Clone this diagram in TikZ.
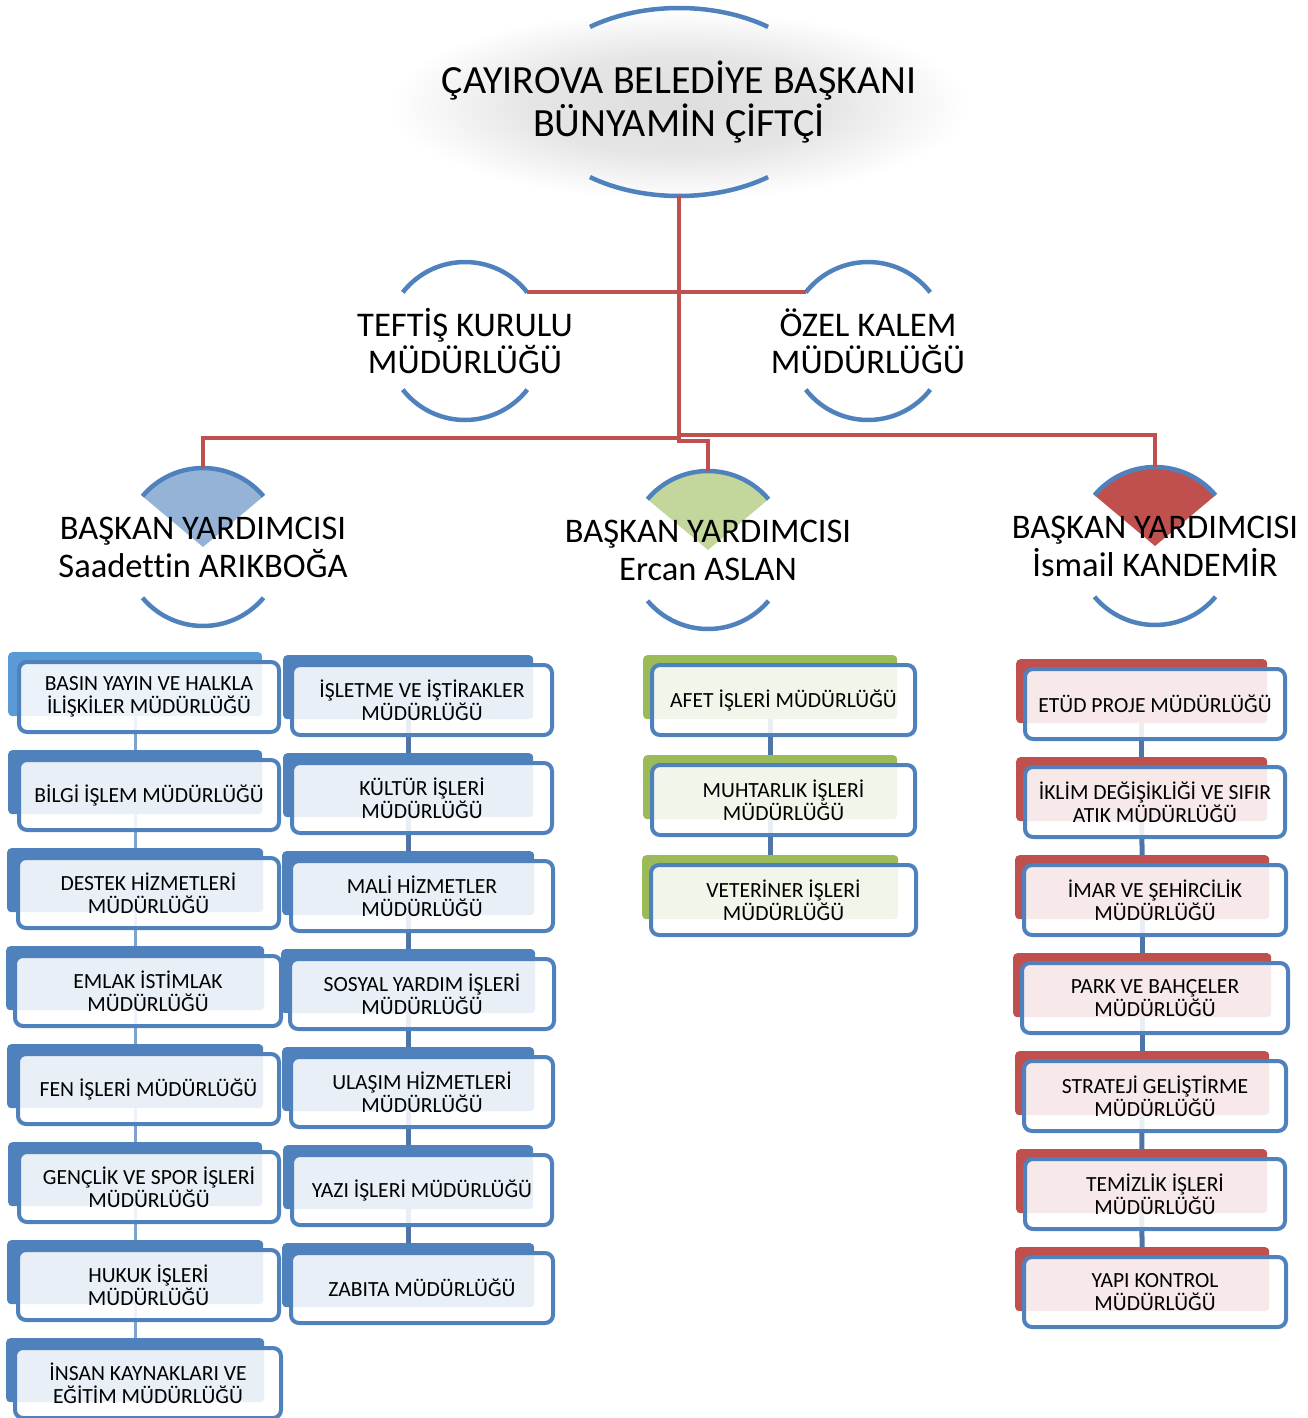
\documentclass[tikz,border=0pt]{standalone}
\usepackage{fontspec}
\setmainfont{Carlito}[Ligatures={NoCommon}]
\usetikzlibrary{calc,backgrounds}
\definecolor{accblue}{HTML}{4F81BD}
\definecolor{accblueL}{HTML}{5B9BD5}
\definecolor{accred}{HTML}{C0504D}
\definecolor{accgreen}{HTML}{9BBB59}
\definecolor{wedgeblue}{HTML}{95B3D7}
\definecolor{wedgegreen}{HTML}{C3D69B}
\definecolor{linkblue}{HTML}{4E74A8}
\definecolor{linkpale}{HTML}{7FA3CF}
\colorlet{glowA}{black!13}
\colorlet{glowB}{black!10}
\pgfdeclareradialshading{glow}{\pgfpoint{0bp}{0bp}}{color(0bp)=(glowA); color(13bp)=(glowB); color(25bp)=(white); color(50bp)=(white)}

% name, back colour, back x, back width, front x, front width, top y, text
\newcommand\obox[8]{%
  \node[backbox, fill=#2, minimum width=#4pt] (#1b) at (#3,#7) {};
  \node[frontbox, minimum width=#6pt] (#1) at (#5,#7+8) {#8};
}

\begin{document}
\begin{tikzpicture}[x=1pt,y=-1pt,
  arcline/.style={draw=accblue, line width=4.5pt},
  redline/.style={draw=accred, line width=4pt},
  backbox/.style={rectangle, rounded corners=4pt, inner sep=0pt, minimum height=64pt, anchor=north west},
  frontbox/.style={rectangle, rounded corners=8pt, draw=accblue, line width=4pt, fill=white, fill opacity=0.88, text opacity=1, inner sep=0pt, minimum height=70pt, anchor=north west, align=center, font=\fontsize{21.6}{23}\selectfont},
  paleLink/.style={draw=linkpale, line width=3pt},
  darkLink/.style={draw=linkblue, line width=5pt},
  bigtxt/.style={align=center, inner sep=0pt, font=\fontsize{40}{43}\selectfont},
  midtxt/.style={align=center, inner sep=0pt, font=\fontsize{34.6}{37}\selectfont},
  vptxt/.style={align=center, inner sep=0pt, font=\fontsize{34.5}{38}\selectfont}
]
\useasboundingbox (0,0) rectangle (1307,1418);

% ---------- top node ----------
\shade[shading=glow] (679,105) ellipse [x radius=290pt, y radius=95pt];
\coordinate (topc) at (679,102);
\draw[arcline] ($(topc)+(53:148pt and 94pt)$) arc[start angle=53, end angle=127, x radius=148pt, y radius=94pt];
\draw[arcline] ($(topc)+(233:148pt and 94pt)$) arc[start angle=233, end angle=307, x radius=148pt, y radius=94pt];
\node[bigtxt] (top) at (topc) {ÇAYIROVA BELEDİYE BAŞKANI\\BÜNYAMİN ÇİFTÇİ};
\coordinate (topbot) at ($(topc)+(0,94)$);

% ---------- staff nodes ----------
\coordinate (teftisc) at (465,341);
\coordinate (ozelc) at (868,341);
\foreach \c in {teftisc,ozelc}{
  \draw[arcline] ($(\c)+(38:79pt)$) arc[start angle=38, end angle=142, radius=79pt];
  \draw[arcline] ($(\c)+(218:79pt)$) arc[start angle=218, end angle=322, radius=79pt];
}
\node[midtxt] (teftis) at (teftisc) {TEFTİŞ KURULU\\MÜDÜRLÜĞÜ};
\node[midtxt] (ozel) at (ozelc) {ÖZEL KALEM\\MÜDÜRLÜĞÜ};
\coordinate (teftisR) at ($(teftisc)+(38:79pt)$);
\coordinate (ozelL) at ($(ozelc)+(142:79pt)$);

% ---------- deputy nodes ----------
\coordinate (vp1c) at (203,547);
\coordinate (vp2c) at (708,550);
\coordinate (vp3c) at (1155,546);
\fill[wedgeblue] (vp1c) -- ($(vp1c)+(40:79pt)$) arc[start angle=40, end angle=140, radius=79pt] -- cycle;
\fill[wedgegreen] (vp2c) -- ($(vp2c)+(40:79pt)$) arc[start angle=40, end angle=140, radius=79pt] -- cycle;
\fill[accred] (vp3c) -- ($(vp3c)+(40:79pt)$) arc[start angle=40, end angle=140, radius=79pt] -- cycle;
\foreach \c in {vp1c,vp2c,vp3c}{
  \draw[arcline] ($(\c)+(40:79pt)$) arc[start angle=40, end angle=140, radius=79pt];
  \draw[arcline] ($(\c)+(220:79pt)$) arc[start angle=220, end angle=320, radius=79pt];
}
\node[vptxt] (vp1) at (vp1c) {BAŞKAN YARDIMCISI\\Saadettin ARIKBOĞA};
\node[vptxt] (vp2) at (vp2c) {BAŞKAN YARDIMCISI\\Ercan ASLAN};
\node[vptxt] (vp3) at (vp3c) {BAŞKAN YARDIMCISI\\İsmail KANDEMİR};
\coordinate (vp1top) at ($(vp1c)+(0,-79)$);
\coordinate (vp2top) at ($(vp2c)+(0,-79)$);
\coordinate (vp3top) at ($(vp3c)+(0,-79)$);

% ---------- red connectors ----------
\coordinate (hub) at (679,441);
\coordinate (bar1) at (203,438);
\coordinate (bar2) at (708,441);
\coordinate (bar3) at (1155,435);
\draw[redline] (topbot) -- (hub);
\draw[redline] (topbot) |- (teftisR);
\draw[redline] (topbot) |- (ozelL);
\draw[redline] (topbot) |- (bar1) -- (vp1top);
\draw[redline] (topbot) |- (bar2) -- (vp2top);
\draw[redline] (topbot) |- (bar3) -- (vp3top);

% ---------- column 1 ----------
\obox{a1}{accblueL}{8}{254}{17}{260}{652}{BASIN YAYIN VE HALKLA\\İLİŞKİLER MÜDÜRLÜĞÜ}
\obox{a2}{accblue}{8}{254}{17}{260}{750}{BİLGİ İŞLEM MÜDÜRLÜĞÜ}
\obox{a3}{accblue}{7}{256}{16}{261}{848}{DESTEK HİZMETLERİ\\MÜDÜRLÜĞÜ}
\obox{a4}{accblue}{6}{258}{13}{266}{946}{EMLAK İSTİMLAK\\MÜDÜRLÜĞÜ}
\obox{a5}{accblue}{7}{256}{16}{261}{1044}{FEN İŞLERİ MÜDÜRLÜĞÜ}
\obox{a6}{accblue}{8}{254}{17}{260}{1142}{GENÇLİK VE SPOR İŞLERİ\\MÜDÜRLÜĞÜ}
\obox{a7}{accblue}{7}{256}{16}{261}{1240}{HUKUK İŞLERİ\\MÜDÜRLÜĞÜ}
\obox{a8}{accblue}{6}{258}{13}{266}{1338}{İNSAN KAYNAKLARI VE\\EĞİTİM MÜDÜRLÜĞÜ}

% ---------- column 2 ----------
\obox{b1}{accblue}{283}{250}{290}{260}{655}{İŞLETME VE İŞTİRAKLER\\MÜDÜRLÜĞÜ}
\obox{b2}{accblue}{283}{250}{290}{260}{753}{KÜLTÜR İŞLERİ\\MÜDÜRLÜĞÜ}
\obox{b3}{accblue}{282}{252}{289}{262}{851}{MALİ HİZMETLER\\MÜDÜRLÜĞÜ}
\obox{b4}{accblue}{281}{254}{288}{264}{949}{SOSYAL YARDIM İŞLERİ\\MÜDÜRLÜĞÜ}
\obox{b5}{accblue}{282}{252}{289}{262}{1047}{ULAŞIM HİZMETLERİ\\MÜDÜRLÜĞÜ}
\obox{b6}{accblue}{283}{250}{290}{260}{1145}{YAZI İŞLERİ MÜDÜRLÜĞÜ}
\obox{b7}{accblue}{282}{252}{289}{262}{1243}{ZABITA MÜDÜRLÜĞÜ}

% ---------- column 3 ----------
\obox{c1}{accgreen}{643}{254}{650}{263}{655}{AFET İŞLERİ MÜDÜRLÜĞÜ}
\obox{c2}{accgreen}{643}{254}{650}{263}{755}{MUHTARLIK İŞLERİ\\MÜDÜRLÜĞÜ}
\obox{c3}{accgreen}{642}{256}{649}{265}{855}{VETERİNER İŞLERİ\\MÜDÜRLÜĞÜ}

% ---------- column 4 ----------
\obox{d1}{accred}{1016}{251}{1023}{260}{659}{ETÜD PROJE MÜDÜRLÜĞÜ}
\obox{d2}{accred}{1016}{251}{1023}{260}{757}{İKLİM DEĞİŞİKLİĞİ VE SIFIR\\ATIK MÜDÜRLÜĞÜ}
\obox{d3}{accred}{1015}{254}{1022}{262}{855}{İMAR VE ŞEHİRCİLİK\\MÜDÜRLÜĞÜ}
\obox{d4}{accred}{1013}{258}{1020}{266}{953}{PARK VE BAHÇELER\\MÜDÜRLÜĞÜ}
\obox{d5}{accred}{1015}{254}{1022}{262}{1051}{STRATEJİ GELİŞTİRME\\MÜDÜRLÜĞÜ}
\obox{d6}{accred}{1016}{251}{1023}{260}{1149}{TEMİZLİK İŞLERİ\\MÜDÜRLÜĞÜ}
\obox{d7}{accred}{1015}{254}{1022}{262}{1247}{YAPI KONTROL\\MÜDÜRLÜĞÜ}

% ---------- blue connectors (behind boxes) ----------
\begin{scope}[on background layer]
  \foreach \p/\q in {a1/a2,a2/a3,a3/a4,a4/a5,a5/a6,a6/a7,a7/a8}
    \draw[paleLink] (\p b.center) -- (\q b.center);
  \foreach \p/\q in {b1/b2,b2/b3,b3/b4,b4/b5,b5/b6,b6/b7,c1/c2,c2/c3,d1/d2,d2/d3,d3/d4,d4/d5,d5/d6,d6/d7}
    \draw[darkLink] (\p b.center) -- (\q b.center);
\end{scope}
\end{tikzpicture}
\end{document}
